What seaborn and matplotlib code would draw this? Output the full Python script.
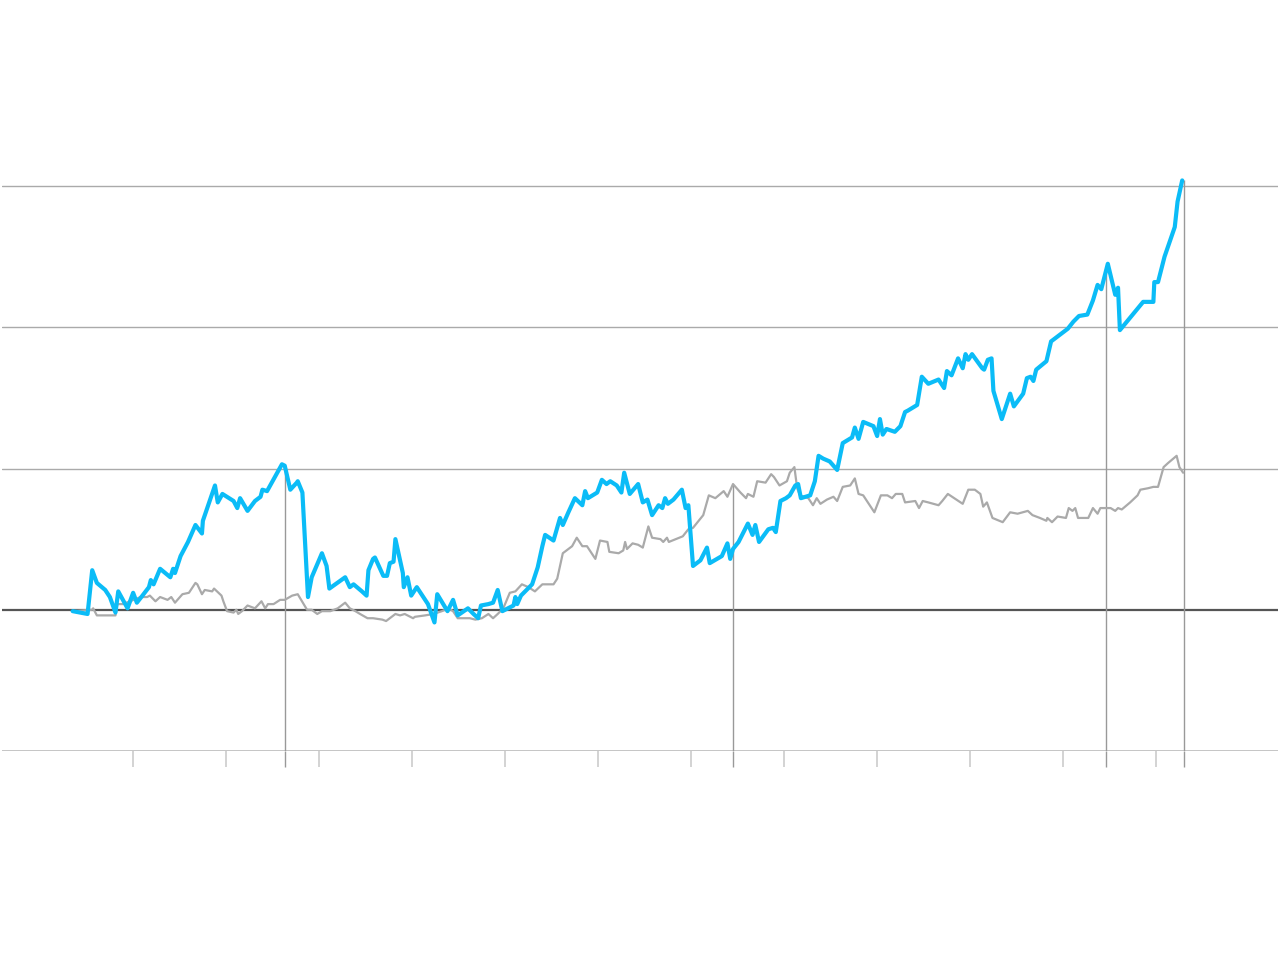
import numpy as np
import pandas as pd
import seaborn as sns
import matplotlib
matplotlib.use("Agg")
import matplotlib.pyplot as plt

# --- data (x in fractional years, y in % change) ---
blue_x = [2011.35, 2011.51, 2011.56, 2011.61, 2011.70, 2011.75, 2011.81, 2011.84, 2011.94, 2012.00,
          2012.04, 2012.10, 2012.17, 2012.19, 2012.22, 2012.29, 2012.40, 2012.43, 2012.45, 2012.51,
          2012.59, 2012.67, 2012.74, 2012.75, 2012.88, 2012.91, 2012.96, 2013.08, 2013.12, 2013.15,
          2013.23, 2013.31, 2013.37, 2013.39, 2013.44, 2013.60, 2013.63, 2013.69, 2013.76, 2013.77,
          2013.82, 2013.88, 2013.92, 2014.03, 2014.08, 2014.11, 2014.28, 2014.33, 2014.37, 2014.46,
          2014.51, 2014.53, 2014.58, 2014.60, 2014.69, 2014.73, 2014.76, 2014.80, 2014.82, 2014.90,
          2014.91, 2014.95, 2014.99, 2015.05, 2015.17, 2015.24, 2015.27, 2015.38, 2015.44, 2015.49,
          2015.60, 2015.66, 2015.71, 2015.74, 2015.82, 2015.87, 2015.92, 2015.97, 2016.09, 2016.11,
          2016.13, 2016.17, 2016.29, 2016.35, 2016.40, 2016.43, 2016.52, 2016.59, 2016.62, 2016.68,
          2016.75, 2016.83, 2016.86, 2016.89, 2016.99, 2017.04, 2017.09, 2017.13, 2017.20, 2017.25,
          2017.28, 2017.34, 2017.43, 2017.48, 2017.53, 2017.58, 2017.65, 2017.69, 2017.72, 2017.75,
          2017.81, 2017.90, 2017.94, 2017.97, 2018.02, 2018.10, 2018.17, 2018.20, 2018.33, 2018.39,
          2018.42, 2018.45, 2018.51, 2018.61, 2018.66, 2018.69, 2018.73, 2018.83, 2018.88, 2018.91,
          2018.96, 2019.02, 2019.06, 2019.12, 2019.15, 2019.18, 2019.28, 2019.33, 2019.37, 2019.42,
          2019.49, 2019.57, 2019.63, 2019.73, 2019.76, 2019.80, 2019.85, 2019.96, 2020.00, 2020.03,
          2020.06, 2020.10, 2020.19, 2020.25, 2020.30, 2020.33, 2020.43, 2020.48, 2020.55, 2020.66,
          2020.72, 2020.75, 2020.80, 2020.87, 2020.92, 2020.95, 2020.98, 2021.02, 2021.13, 2021.15,
          2021.19, 2021.23, 2021.25, 2021.34, 2021.43, 2021.47, 2021.57, 2021.61, 2021.65, 2021.68,
          2021.71, 2021.82, 2021.87, 2022.05, 2022.11, 2022.17, 2022.26, 2022.32, 2022.37, 2022.41,
          2022.48, 2022.56, 2022.59, 2022.61, 2022.86, 2022.97, 2022.98, 2023.02, 2023.09, 2023.20,
          2023.23, 2023.28]
blue_y = [-0.1, -0.3, 2.8, 1.9, 1.4, 0.9, -0.2, 1.3, 0.1, 1.2,
          0.5, 1.0, 1.6, 2.1, 1.8, 2.9, 2.3, 2.9, 2.6, 3.8,
          4.8, 6.0, 5.4, 6.3, 8.8, 7.6, 8.2, 7.7, 7.2, 7.9,
          7.0, 7.7, 8.0, 8.5, 8.4, 10.3, 10.2, 8.5, 9.0, 9.1,
          8.3, 0.9, 2.3, 4.0, 3.1, 1.5, 2.3, 1.6, 1.8, 1.3,
          1.0, 2.8, 3.6, 3.7, 2.4, 2.4, 3.3, 3.4, 5.0, 2.6,
          1.6, 2.3, 1.0, 1.6, 0.4, -0.9, 1.1, -0.1, 0.7, -0.4,
          0.1, -0.3, -0.6, 0.3, 0.4, 0.5, 1.4, -0.1, 0.3, 0.9,
          0.4, 1.0, 1.8, 3.0, 4.5, 5.3, 4.9, 6.5, 6.0, 6.9,
          7.9, 7.4, 8.4, 7.9, 8.3, 9.2, 8.9, 9.1, 8.8, 8.3,
          9.7, 8.2, 8.9, 7.6, 7.8, 6.7, 7.4, 7.2, 7.9, 7.5,
          7.8, 8.5, 7.2, 7.4, 3.1, 3.5, 4.4, 3.3, 3.8, 4.7,
          3.6, 4.3, 4.8, 6.1, 5.3, 6.0, 4.8, 5.7, 5.8, 5.5,
          7.7, 7.9, 8.1, 8.8, 8.9, 7.9, 8.1, 9.1, 10.9, 10.7,
          10.5, 9.9, 11.8, 12.2, 12.9, 12.1, 13.3, 13.0, 12.3, 13.5,
          12.4, 12.8, 12.6, 13.0, 14.0, 14.1, 14.5, 16.5, 16.0, 16.3,
          15.7, 16.9, 16.6, 17.8, 17.1, 18.1, 17.7, 18.1, 17.1, 17.0,
          17.7, 17.8, 15.5, 13.5, 15.3, 14.4, 15.3, 16.4, 16.5, 16.2,
          17.0, 17.6, 19.0, 19.9, 20.4, 20.8, 20.9, 21.9, 23.0, 22.7,
          24.5, 22.3, 22.8, 19.8, 21.8, 21.8, 23.2, 23.2, 25.0, 27.1,
          28.9, 30.4]

gray_x = [2011.34, 2011.56, 2011.57, 2011.61, 2011.81, 2011.83, 2011.89, 2012.08, 2012.15, 2012.18,
          2012.24, 2012.29, 2012.37, 2012.41, 2012.45, 2012.53, 2012.60, 2012.67, 2012.69, 2012.74,
          2012.77, 2012.85, 2012.87, 2012.95, 2012.97, 2013.01, 2013.08, 2013.11, 2013.13, 2013.17,
          2013.23, 2013.31, 2013.38, 2013.42, 2013.45, 2013.51, 2013.58, 2013.63, 2013.71, 2013.77,
          2013.87, 2013.92, 2013.98, 2014.03, 2014.12, 2014.20, 2014.28, 2014.33, 2014.39, 2014.44,
          2014.52, 2014.58, 2014.68, 2014.72, 2014.76, 2014.82, 2014.87, 2014.92, 2014.98, 2015.01,
          2015.03, 2015.14, 2015.23, 2015.32, 2015.39, 2015.44, 2015.49, 2015.57, 2015.62, 2015.68,
          2015.75, 2015.82, 2015.87, 2015.92, 2015.98, 2016.05, 2016.11, 2016.18, 2016.25, 2016.32,
          2016.40, 2016.52, 2016.56, 2016.62, 2016.72, 2016.77, 2016.83, 2016.88, 2016.97, 2017.02,
          2017.10, 2017.12, 2017.22, 2017.27, 2017.29, 2017.31, 2017.37, 2017.43, 2017.48, 2017.54,
          2017.58, 2017.67, 2017.70, 2017.74, 2017.76, 2017.91, 2017.97, 2018.02, 2018.13, 2018.19,
          2018.26, 2018.35, 2018.39, 2018.45, 2018.53, 2018.59, 2018.61, 2018.67, 2018.71, 2018.80,
          2018.86, 2018.89, 2018.95, 2019.03, 2019.06, 2019.11, 2019.14, 2019.17, 2019.26, 2019.31,
          2019.35, 2019.39, 2019.46, 2019.53, 2019.57, 2019.63, 2019.71, 2019.76, 2019.80, 2019.85,
          2019.97, 2020.04, 2020.11, 2020.16, 2020.20, 2020.27, 2020.30, 2020.41, 2020.45, 2020.49,
          2020.55, 2020.66, 2020.70, 2020.76, 2020.92, 2020.98, 2021.05, 2021.11, 2021.14, 2021.18,
          2021.24, 2021.35, 2021.43, 2021.51, 2021.62, 2021.67, 2021.75, 2021.82, 2021.83, 2021.88,
          2021.94, 2022.03, 2022.06, 2022.10, 2022.13, 2022.16, 2022.27, 2022.32, 2022.37, 2022.40,
          2022.51, 2022.56, 2022.59, 2022.63, 2022.72, 2022.80, 2022.83, 2022.91, 2022.97, 2023.02,
          2023.08, 2023.13, 2023.22, 2023.25, 2023.29]
gray_y = [-0.1, 0.0, 0.1, -0.4, -0.4, 0.4, 0.4, 0.9, 0.9, 1.0,
          0.6, 0.9, 0.7, 0.9, 0.5, 1.1, 1.2, 1.9, 1.8, 1.1,
          1.4, 1.3, 1.5, 1.0, 0.6, -0.1, -0.2, 0.0, -0.3, -0.1,
          0.3, 0.1, 0.6, 0.1, 0.4, 0.4, 0.7, 0.7, 1.0, 1.1,
          0.0, 0.0, -0.3, -0.1, -0.1, 0.1, 0.5, 0.1, -0.1, -0.3,
          -0.6, -0.6, -0.7, -0.8, -0.6, -0.3, -0.4, -0.3, -0.5, -0.6,
          -0.5, -0.4, -0.3, -0.1, 0.1, -0.1, -0.6, -0.6, -0.6, -0.7,
          -0.6, -0.3, -0.6, -0.3, 0.1, 1.2, 1.3, 1.8, 1.6, 1.3,
          1.8, 1.8, 2.2, 4.0, 4.5, 5.1, 4.5, 4.5, 3.6, 4.9,
          4.8, 4.1, 4.0, 4.2, 4.8, 4.3, 4.7, 4.6, 4.4, 5.9,
          5.1, 5.0, 4.8, 5.1, 4.8, 5.2, 5.7, 5.8, 6.7, 8.1,
          7.9, 8.4, 8.0, 8.9, 8.3, 7.9, 8.2, 8.0, 9.1, 9.0,
          9.6, 9.4, 8.8, 9.1, 9.7, 10.1, 8.6, 8.1, 7.9, 7.4,
          7.9, 7.5, 7.8, 8.0, 7.7, 8.7, 8.8, 9.3, 8.2, 8.1,
          6.9, 8.1, 8.1, 7.9, 8.2, 8.2, 7.6, 7.7, 7.2, 7.7,
          7.6, 7.4, 7.7, 8.2, 7.5, 8.5, 8.5, 8.2, 7.3, 7.6,
          6.5, 6.2, 6.9, 6.8, 7.0, 6.7, 6.5, 6.3, 6.5, 6.2,
          6.6, 6.5, 7.2, 7.0, 7.2, 6.5, 6.5, 7.2, 6.8, 7.2,
          7.2, 7.0, 7.2, 7.1, 7.6, 8.1, 8.5, 8.6, 8.7, 8.7,
          10.1, 10.4, 10.9, 10.1, 9.7]

year_ticks = list(range(2012, 2024))
marker_x = [2013.63, 2018.45, 2022.46, 2023.30]
grid_levels = [10, 20, 30]

blue_df = pd.DataFrame({"x": blue_x, "y": blue_y})
gray_df = pd.DataFrame({"x": gray_x, "y": gray_y})

sns.set_style("white")
fig = plt.figure(figsize=(12.8, 9.72), dpi=100)
ax = fig.add_axes([2 / 1280, 0.2274, 1276 / 1280, 0.8231 - 0.2274])

for lvl in grid_levels:
    ax.axhline(lvl, color="#aaaaaa", lw=1, zorder=0)
ax.axhline(-10, color="#bbbbbb", lw=1.2, zorder=0)
ax.axhline(0, color="#555555", lw=1.6, zorder=1)

# marker lines reach up to the higher series at that date
for mx in marker_x:
    top = max(np.interp(mx, blue_x, blue_y), np.interp(mx, gray_x, gray_y))
    ax.vlines(mx, -10, top, color="#999999", lw=1, zorder=1)

sns.lineplot(data=gray_df, x="x", y="y", ax=ax, color="#aaaaaa", lw=1.6,
             estimator=None, sort=False, zorder=2)
sns.lineplot(data=blue_df, x="x", y="y", ax=ax, color="#0bbcf7", lw=3.0,
             estimator=None, sort=False, zorder=3)

ax.set_xlim(2010.59, 2024.31)
ax.set_ylim(-10, 31)
ax.set_xticks(year_ticks)
ax.set_xticks(marker_x, minor=True)
ax.set_xticklabels([])
ax.set_yticks([])
ax.set_xlabel("")
ax.set_ylabel("")
ax.tick_params(axis="x", which="major", direction="out", length=11.5, width=1.2,
               color="#cccccc", bottom=True)
ax.tick_params(axis="x", which="minor", direction="out", length=11.5, width=1,
               color="#999999", bottom=True)
for s in ax.spines.values():
    s.set_visible(False)
ax.patch.set_alpha(0)

fig.savefig("out.png", dpi=100)
